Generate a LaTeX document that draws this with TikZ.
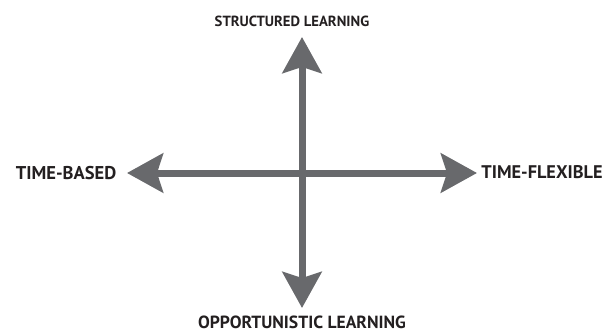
\documentclass[tikz,border=0pt]{standalone}
\usepackage{fontspec}
\setmainfont{PT Sans}
\usetikzlibrary{arrows.meta}
\definecolor{axisgray}{RGB}{104,105,108}
\definecolor{labelblack}{RGB}{35,31,32}

\begin{document}
\begin{tikzpicture}[x=1pt,y=-1pt]
\tikzset{
  axislabel/.style={inner sep=0pt,text=labelblack,font=\bfseries},
  axisline/.style={{Stealth[length=36pt,width=39pt,inset=6pt]}-{Stealth[length=36pt,width=39pt,inset=6pt]},line width=7pt,draw=axisgray,fill=axisgray}
}
\useasboundingbox (0,0) rectangle (610,334);
\node[axislabel,font=\bfseries\fontsize{14.7}{16}\selectfont] (l_top) at (292,21) {STRUCTURED LEARNING};
\node[axislabel,font=\bfseries\fontsize{17.6}{20}\selectfont] (l_bottom) at (302,322) {OPPORTUNISTIC LEARNING};
\node[axislabel,font=\bfseries\fontsize{18.5}{20}\selectfont] (l_left) at (66,173) {TIME-BASED};
\node[axislabel,font=\bfseries\fontsize{18.3}{20}\selectfont] (l_right) at (542,172) {TIME-FLEXIBLE};
\coordinate (c_top) at (302,37);
\coordinate (c_bottom) at (302,308);
\coordinate (c_left) at (127,173);
\coordinate (c_right) at (477,173);
\draw[axisline] (c_left) -- (c_right);
\draw[axisline] (c_top) -- (c_bottom);
\end{tikzpicture}
\end{document}
